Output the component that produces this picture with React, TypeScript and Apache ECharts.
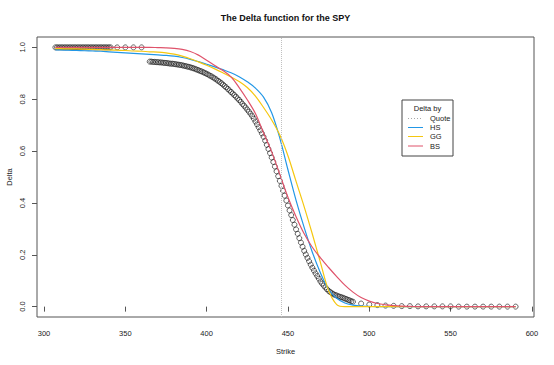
import React, { useEffect, useRef } from "react";
import * as echarts from "echarts";

const quoteStrikes = [
  307, 308, 309, 310, 311, 312, 313, 314, 315, 316, 317, 318, 319, 320, 321, 322, 323, 324, 325, 326,
  327, 328, 329, 330, 331, 332, 333, 334, 335, 336, 337, 338, 339, 340, 341, 345, 350, 355, 360,
  365, 366, 367, 368, 369, 370, 371, 372, 373, 374, 375, 376, 377, 378, 379, 380, 381, 382, 383, 384,
  385, 386, 387, 388, 389, 390, 391, 392, 393, 394, 395, 396, 397, 398, 399, 400, 401, 402, 403, 404,
  405, 406, 407, 408, 409, 410, 411, 412, 413, 414, 415, 416, 417, 418, 419, 420, 421, 422, 423, 424,
  425, 426, 427, 428, 429, 430, 431, 432, 433, 434, 435, 436, 437, 438, 439, 440, 441, 442, 443, 444,
  445, 446, 447, 448, 449, 450, 451, 452, 453, 454, 455, 456, 457, 458, 459, 460, 461, 462, 463, 464,
  465, 466, 467, 468, 469, 470, 471, 472, 473, 474, 475, 476, 477, 478, 479, 480, 481, 482, 483, 484,
  485, 486, 487, 488, 489, 490,
  495, 500, 505, 510, 515, 520, 525, 530, 535, 540, 545, 550, 555, 560, 565, 570, 575, 580, 585, 590,
];

const quoteDeltas = [
  1, 1, 1, 1, 1, 1, 1, 1, 1, 1, 1, 1, 1, 1, 1, 1, 1, 1, 1, 1,
  1, 1, 1, 1, 1, 1, 1, 1, 1, 1, 1, 1, 1, 1, 1, 1, 1, 1, 1,
  0.945, 0.945, 0.944, 0.944, 0.943, 0.943, 0.942, 0.942, 0.941, 0.940, 0.940, 0.939, 0.938, 0.937, 0.937, 0.936, 0.935, 0.934, 0.933, 0.932,
  0.931, 0.929, 0.928, 0.926, 0.925, 0.923, 0.921, 0.919, 0.917, 0.914, 0.912, 0.909, 0.907, 0.904, 0.901, 0.898, 0.895, 0.891, 0.888, 0.884,
  0.880, 0.876, 0.871, 0.867, 0.862, 0.857, 0.851, 0.846, 0.840, 0.834, 0.828, 0.822, 0.816, 0.810, 0.803, 0.797, 0.790, 0.782, 0.775, 0.768,
  0.760, 0.752, 0.744, 0.735, 0.725, 0.714, 0.703, 0.692, 0.680, 0.668, 0.655, 0.640, 0.624, 0.608, 0.592, 0.575, 0.558, 0.540, 0.522, 0.503,
  0.485, 0.466, 0.447, 0.428, 0.409, 0.390, 0.371, 0.353, 0.334, 0.316, 0.298, 0.281, 0.264, 0.247, 0.231, 0.215, 0.201, 0.188, 0.175, 0.162,
  0.150, 0.139, 0.128, 0.118, 0.108, 0.097, 0.089, 0.081, 0.074, 0.067, 0.061, 0.056, 0.052, 0.048, 0.045, 0.043, 0.040, 0.038, 0.036, 0.034,
  0.031, 0.029, 0.026, 0.024, 0.021, 0.019,
  0.012, 0.008, 0.006, 0.004, 0.003, 0.002, 0.002, 0.001, 0.001, 0.001, 0.001, 0.001, 0.0, 0.0, 0.0, 0.0, 0.0, 0.0, 0.0, 0.0,
];

const curveStrikes = [
  307, 310, 315, 320, 325, 330, 335, 340, 345, 350, 355, 360, 365, 370, 375, 380, 385, 390, 395, 400,
  405, 410, 415, 420, 425, 430, 435, 440, 445, 450, 455, 460, 465, 470, 475, 480, 485, 490, 495, 500,
  505, 510, 515, 520, 525, 530, 535, 540, 545, 550, 555, 560, 565, 570, 575, 580, 585, 590,
];

const hsDeltas = [
  0.990, 0.990, 0.989, 0.988, 0.987, 0.986, 0.985, 0.983, 0.981, 0.979, 0.977, 0.975, 0.973, 0.971, 0.969, 0.966, 0.961, 0.954, 0.945, 0.935,
  0.925, 0.914, 0.902, 0.887, 0.867, 0.843, 0.808, 0.748, 0.650, 0.528, 0.410, 0.305, 0.210, 0.130, 0.066, 0.032, 0.014, 0.006, 0.002, 0.001,
  0, 0, 0, 0, 0, 0, 0, 0, 0, 0, 0, 0, 0, 0, 0, 0, 0, 0,
];

const ggDeltas = [
  0.995, 0.995, 0.994, 0.994, 0.993, 0.992, 0.991, 0.990, 0.989, 0.988, 0.986, 0.985, 0.983, 0.982, 0.979, 0.974, 0.966, 0.956, 0.944, 0.931,
  0.917, 0.902, 0.886, 0.868, 0.845, 0.812, 0.768, 0.720, 0.662, 0.582, 0.483, 0.385, 0.280, 0.170, 0.062, 0.008, 0, 0, 0, 0,
  0, 0, 0, 0, 0, 0, 0, 0, 0, 0, 0, 0, 0, 0, 0, 0, 0, 0,
];

const bsDeltas = [
  1, 1, 1, 1, 1, 1, 1, 1, 1, 1, 1, 1, 1, 0.999, 0.998, 0.996, 0.992, 0.984, 0.970, 0.950,
  0.930, 0.911, 0.886, 0.845, 0.798, 0.745, 0.670, 0.597, 0.510, 0.422, 0.347, 0.281, 0.229, 0.188, 0.151, 0.116, 0.083, 0.056, 0.035, 0.021,
  0.012, 0.007, 0.004, 0.002, 0.001, 0, 0, 0, 0, 0, 0, 0, 0, 0, 0, 0, 0, 0,
];

const spotPrice = 446;
const xTicks = [300, 350, 400, 450, 500, 550, 600];
const yTicks = [0, 0.2, 0.4, 0.6, 0.8, 1.0];
const legendTitle = "Delta by";
const legendLabels = ["Quote", "HS", "GG", "BS"];
const legendColors = ["#a8a8a8", "#2297E6", "#F5C710", "#DF536B"];
const titleText = "The Delta function for the SPY";
const xName = "Strike";
const yName = "Delta";

const FONT = '"Liberation Sans", Arial, Helvetica, sans-serif';

function pairs(xs: number[], ys: number[]) {
  return xs.map((x, i) => [x, ys[i]]);
}

export default function App() {
  const ref = useRef<HTMLDivElement>(null);
  useEffect(() => {
    if (!ref.current) return;
    const chart = echarts.init(ref.current, undefined, { renderer: "svg" });

    const legendX = 402;
    const legendY = 100;
    const rowYs = [118.5, 127.5, 136.5, 146];
    const legendGraphics: any[] = [
      {
        type: "rect",
        shape: { x: legendX, y: legendY, width: 51, height: 56 },
        style: { fill: "#fff", stroke: "#444", lineWidth: 1 },
        z: 100,
      },
      {
        type: "text",
        x: 427.5,
        y: 108,
        style: { text: legendTitle, font: `7.5px ${FONT}`, fill: "#222", textAlign: "center", textVerticalAlign: "middle" },
        z: 101,
      },
    ];
    legendLabels.forEach((lab, i) => {
      legendGraphics.push({
        type: "line",
        shape: { x1: 408, y1: rowYs[i], x2: 423, y2: rowYs[i] },
        style: { stroke: legendColors[i], lineWidth: 1, lineDash: i === 0 ? [1, 2] : null },
        z: 101,
      });
      legendGraphics.push({
        type: "text",
        x: 430,
        y: rowYs[i],
        style: { text: lab, font: `7.5px ${FONT}`, fill: "#222", textAlign: "left", textVerticalAlign: "middle" },
        z: 101,
      });
    });

    const lineSeries = (name: string, ys: number[], color: string) => ({
      name,
      type: "line",
      data: pairs(curveStrikes, ys),
      showSymbol: false,
      smooth: 0.35,
      lineStyle: { color, width: 1.2 },
      itemStyle: { color },
      z: 3,
    });

    chart.setOption({
      animation: false,
      backgroundColor: "#fff",
      textStyle: { fontFamily: FONT },
      grid: {
        left: 37,
        top: 37,
        width: 497,
        height: 280,
        show: true,
        borderColor: "#555",
        borderWidth: 1,
        backgroundColor: "transparent",
      },
      xAxis: {
        type: "value",
        min: 295.7,
        max: 601.3,
        axisLine: { show: false },
        splitLine: { show: false },
        axisTick: { show: true, customValues: xTicks, length: 5, lineStyle: { color: "#555" } },
        axisLabel: {
          customValues: xTicks,
          fontSize: 7.5,
          color: "#222",
          margin: 12,
          fontFamily: FONT,
          formatter: (v: number) => String(v),
        },
      },
      yAxis: {
        type: "value",
        min: -0.04,
        max: 1.04,
        axisLine: { show: false },
        splitLine: { show: false },
        axisTick: { show: true, customValues: yTicks, length: 5, lineStyle: { color: "#555" } },
        axisLabel: {
          customValues: yTicks,
          fontSize: 7.5,
          color: "#222",
          margin: 11,
          rotate: 90,
          fontFamily: FONT,
          formatter: (v: number) => v.toFixed(1),
        },
      },
      graphic: [
        {
          type: "text",
          x: 285.5,
          y: 18,
          style: { text: titleText, font: `bold 9px ${FONT}`, fill: "#111", textAlign: "center", textVerticalAlign: "middle" },
        },
        {
          type: "text",
          x: 285.5,
          y: 351,
          style: { text: xName, font: `7.5px ${FONT}`, fill: "#222", textAlign: "center", textVerticalAlign: "middle" },
        },
        {
          type: "text",
          x: 9,
          y: 177,
          rotation: Math.PI / 2,
          style: { text: yName, font: `7.5px ${FONT}`, fill: "#222", textAlign: "center", textVerticalAlign: "middle" },
        },
        ...legendGraphics,
      ],
      series: [
        {
          name: "Quote",
          type: "scatter",
          data: pairs(quoteStrikes, quoteDeltas),
          symbol: "circle",
          symbolSize: 5,
          itemStyle: { color: "rgba(0,0,0,0)", borderColor: "#111", borderWidth: 0.8 },
          z: 2,
          markLine: {
            silent: true,
            symbol: ["none", "none"],
            label: { show: false },
            lineStyle: { type: "dotted", color: "#c0c0c0", width: 1 },
            data: [{ xAxis: spotPrice }],
          },
        },
        lineSeries("HS", hsDeltas, "#2297E6"),
        lineSeries("GG", ggDeltas, "#F5C710"),
        lineSeries("BS", bsDeltas, "#DF536B"),
      ],
    });
    return () => chart.dispose();
  }, []);
  return <div ref={ref} style={{ position: "fixed", left: 0, top: 0, width: 554, height: 365 }} />;
}
